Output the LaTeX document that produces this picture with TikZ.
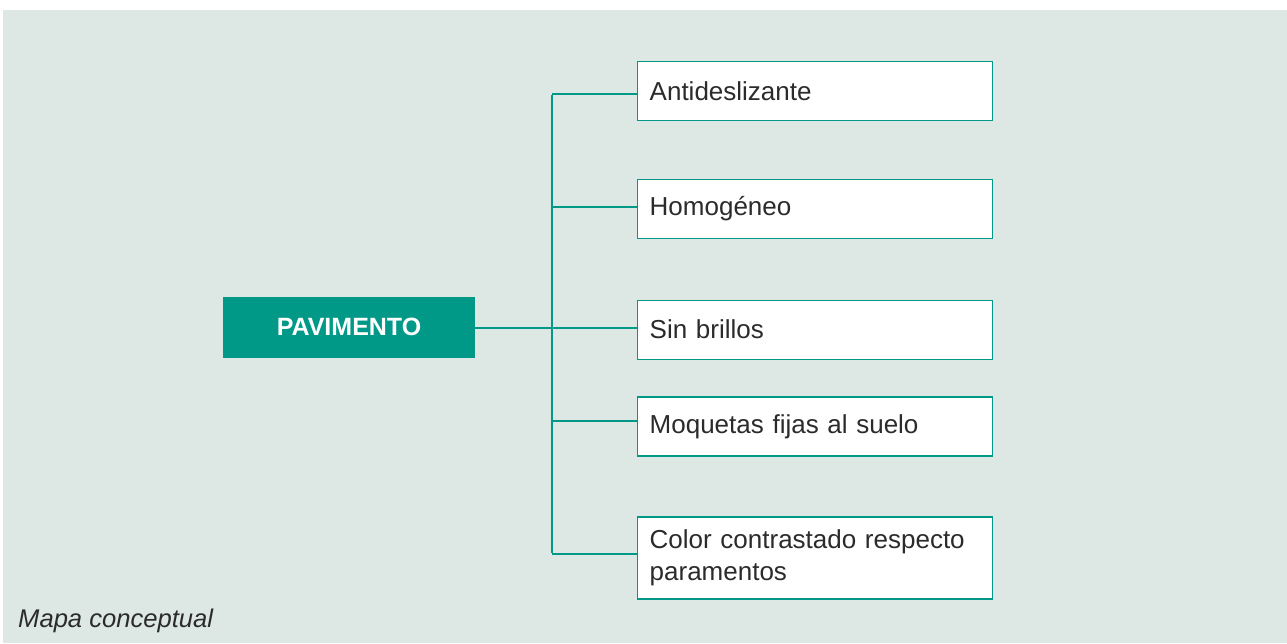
\documentclass[tikz,border=0pt]{standalone}
\usepackage{fontspec}
\setmainfont{Liberation Sans}
\definecolor{tealc}{HTML}{009987}
\definecolor{bgc}{HTML}{DDE8E5}
\definecolor{txtc}{HTML}{2B2B2B}
\tikzset{
  mainbox/.style={fill=tealc, draw=none, minimum width=252pt, minimum height=61pt, inner sep=0pt,
    text=white, font=\fontsize{25}{29}\selectfont\bfseries},
  itembox/.style={fill=white, draw=tealc, line width=1.4pt, anchor=west, text width=331pt,
    inner xsep=12pt, inner ysep=0pt, minimum height=59pt, align=left, text=txtc,
    font=\fontsize{26}{32}\selectfont},
  trunk/.style={draw=tealc, line width=2.5pt},
  branch/.style={draw=tealc, line width=1.4pt},
  caption/.style={anchor=base west, inner sep=0pt, text=txtc, font=\fontsize{25.6}{30}\selectfont\itshape}
}
\begin{document}
\begin{tikzpicture}[x=1pt,y=-1pt]
\useasboundingbox (0,0) rectangle (1287,643);
\fill[white] (0,0) rectangle (1287,643);
\fill[bgc] (3,10) rectangle (1287,643);

\node[mainbox] (pav) at (349,327) {PAVIMENTO};

\node[itembox] (a) at (637,91.2) {Antideslizante};
\node[itembox] (b) at (637,209) {Homogéneo};
\node[itembox] (c) at (637,329.7) {Sin brillos};
\node[itembox] (d) at (637,426.3) {Moquetas fijas al suelo};
\node[itembox, minimum height=82pt] (e) at (637,558) {Color contrastado respecto\\paramentos};

\coordinate (t1) at (552,94);
\coordinate (t2) at (552,207);
\coordinate (t3) at (552,328);
\coordinate (t4) at (552,421);
\coordinate (t5) at (552,554);

\draw[trunk] (pav.east |- t3) -- (t3);
\draw[trunk] ([yshift=-0.7pt]t1) -- ([yshift=0.7pt]t5);
\draw[branch] (t1) -- (t1 -| a.west);
\draw[branch] (t2) -- (t2 -| b.west);
\draw[branch] (t3) -- (t3 -| c.west);
\draw[branch] (t4) -- (t4 -| d.west);
\draw[branch] (t5) -- (t5 -| e.west);

\node[caption] (cap) at (18,627) {Mapa conceptual};
\end{tikzpicture}
\end{document}
